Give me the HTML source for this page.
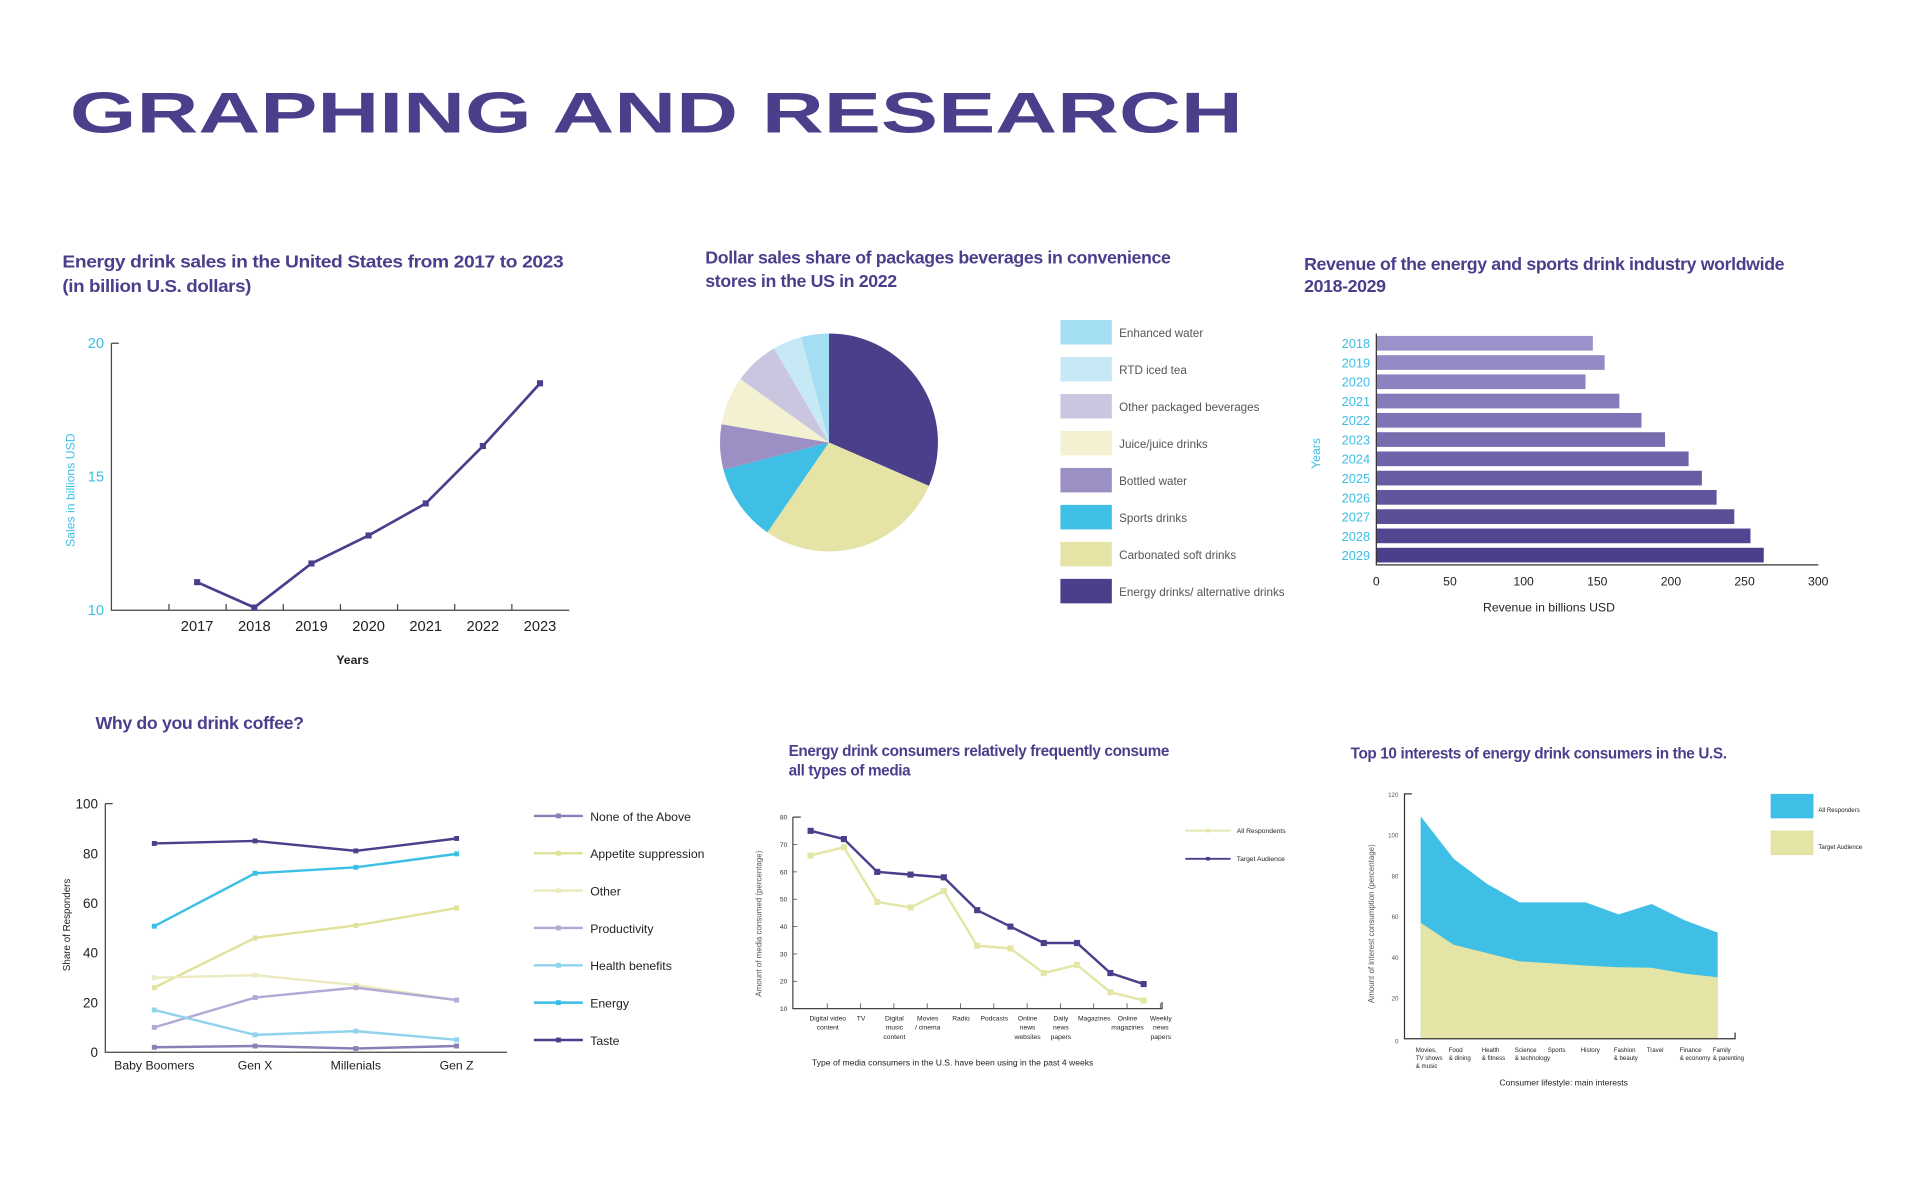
<!DOCTYPE html>
<html><head><meta charset="utf-8"><style>
html,body{margin:0;padding:0;background:#fff;}
svg{display:block;}
text{font-family:"Liberation Sans",sans-serif;}
.t{font-weight:bold;fill:#4b3f8c;font-size:14.5px;letter-spacing:-0.3px}
</style></head><body>
<svg id="s" width="1920" height="1180" viewBox="0 0 1568 963">
<rect width="1568" height="963" fill="#fff"/>
<text x="57" y="108" font-size="47" font-weight="bold" fill="#4b3f8c" textLength="958" lengthAdjust="spacingAndGlyphs">GRAPHING AND RESEARCH</text>
<text class="t" x="51" y="218"><tspan x="51" y="218" textLength="409" lengthAdjust="spacingAndGlyphs">Energy drink sales in the United States from 2017 to 2023</tspan><tspan x="51" y="238" textLength="154" lengthAdjust="spacingAndGlyphs">(in billion U.S. dollars)</tspan></text>
<text class="t" x="576" y="215">Dollar sales share of packages beverages in convenience<tspan x="576" y="234">stores in the US in 2022</tspan></text>
<text class="t" x="1065" y="220">Revenue of the energy and sports drink industry worldwide<tspan x="1065" y="238">2018-2029</tspan></text>
<text class="t" x="78" y="595">Why do you drink coffee?</text>
<text class="t" x="644" y="617" style="font-size:12.5px">Energy drink consumers relatively frequently consume<tspan x="644" y="633">all types of media</tspan></text>
<text class="t" x="1103" y="619" style="font-size:12.5px">Top 10 interests of energy drink consumers in the U.S.</text>
<g id="g"></g>
</svg>
<script>
// Chart 1
const salesYears=["2017","2018","2019","2020","2021","2022","2023"];
const salesValues=[11.05,10.1,11.75,12.8,14.0,16.15,18.5];
const salesTicks=[10,15,20];
// Chart 2
const pieLabels=["Energy drinks/ alternative drinks","Carbonated soft drinks","Sports drinks","Bottled water","Juice/juice drinks","Other packaged beverages","RTD iced tea","Enhanced water"];
const pieValues=[31.5,28,11.4,6.7,7.2,6.7,4.3,4.1];
const pieColors=["#4b3f8c","#e5e4a6","#3fbfe6","#9b8fc4","#f3f1d2","#cbc6e0","#c6e9f5","#a3def2"];
// Chart 3
const revYears=["2018","2019","2020","2021","2022","2023","2024","2025","2026","2027","2028","2029"];
const revValues=[147,155,142,165,180,196,212,221,231,243,254,263];
const revTicks=[0,50,100,150,200,250,300];
// Chart 4
const coffeeCats=["Baby Boomers","Gen X","Millenials","Gen Z"];
const coffeeNames=["None of the Above","Appetite suppression","Other","Productivity","Health benefits","Energy","Taste"];
const coffeeNone=[2,2.5,1.5,2.5];
const coffeeAppetite=[26,46,51,58];
const coffeeOther=[30,31,27,21];
const coffeeProd=[10,22,26,21];
const coffeeHealth=[17,7,8.5,5];
const coffeeEnergy=[50.7,72,74.4,79.8];
const coffeeTaste=[84,85,81,86];
const coffeeColors=["#8a80b5","#dfe29a","#eceabf","#b3a9d6","#8fd3ec","#3cbfe5","#4b3f8c"];
const coffeeTicks=[0,20,40,60,80,100];
// Chart 5
const mediaCats=[["Digital video","content"],["TV"],["Digital","music","content"],["Movies","/ cinema"],["Radio"],["Podcasts"],["Online","news","websites"],["Daily","news","papers"],["Magazines"],["Online","magazines"],["Weekly","news","papers"]];
const mediaTarget=[75,72,60,59,58,46,40,34,34,23,19];
const mediaAll=[66,69,49,47,53,33,32,23,26,16,13];
const mediaTicks=[10,20,30,40,50,60,70,80];
// Chart 6
const intCats=[["Movies,","TV shows","& music"],["Food","& dining"],["Health","& fitness"],["Science","& technology"],["Sports"],["History"],["Fashion","& beauty"],["Travel"],["Finance","& economy"],["Family","& parenting"]];
const intAll=[109.3,88.4,76.2,67,67,67,61.1,66.2,58.2,52.1];
const intTarget=[57,46.2,42.1,38,37,35.9,35.1,34.9,32,30.2];
const intTicks=[0,20,40,60,80,100,120];

const NS="http://www.w3.org/2000/svg";
const G=document.getElementById('g');
function mk(tag,attrs,txt){const e=document.createElementNS(NS,tag);for(const k in attrs)e.setAttribute(k,attrs[k]);if(txt!==undefined)e.textContent=txt;G.appendChild(e);return e;}

// ---- Chart 1
const x1=i=>161+i*46.67, y1=v=>498-(v-10)*21.8;
let e=mk('path',{d:'M91,280 H97 M91,280 V498 H465',stroke:'#444',fill:'none','stroke-width':1});

salesTicks.forEach(t=>{e=mk('text',{x:85,y:y1(t)+4,'text-anchor':'end','font-size':12,fill:'#3cbfe5'},t);
});
salesYears.forEach((yr,i)=>{mk('line',{x1:x1(i)-23,x2:x1(i)-23,y1:493,y2:498,stroke:'#444'});
e=mk('text',{x:x1(i),y:515,'text-anchor':'middle','font-size':12,fill:'#222'},yr);
});
e=mk('text',{x:288,y:542,'text-anchor':'middle','font-size':10,'font-weight':'bold',fill:'#222'},'Years');

e=mk('text',{transform:'translate(61,400) rotate(-90)','text-anchor':'middle','font-size':10,fill:'#3cbfe5'},'Sales in billions USD');

e=mk('polyline',{points:salesValues.map((v,i)=>x1(i)+','+y1(v)).join(' '),fill:'none',stroke:'#4b3f8c','stroke-width':2.2});

salesValues.forEach((v,i)=>{e=mk('rect',{x:x1(i)-2.5,y:y1(v)-2.5,width:5,height:5,fill:'#4b3f8c'});
});

// ---- Chart 2
const cx=677,cy=361,r=89;const tot=pieValues.reduce((a,b)=>a+b,0);let ang=0;
pieValues.forEach((v,i)=>{const a0=ang,a1=ang+v/tot*2*Math.PI;ang=a1;
const p=a=>[cx+r*Math.sin(a),cy-r*Math.cos(a)];const [sx,sy]=p(a0),[ex,ey]=p(a1);
e=mk('path',{d:`M${cx},${cy} L${sx},${sy} A${r},${r} 0 ${a1-a0>Math.PI?1:0} 1 ${ex},${ey} Z`,fill:pieColors[i]});
});
for(let k=0;k<8;k++){const i=7-k;const y=261+k*30.2;
e=mk('rect',{x:866,y:y,width:42,height:20,fill:pieColors[i]});

e=mk('text',{x:914,y:y+14,'font-size':9.5,fill:'#555'},pieLabels[i]);
}

// ---- Chart 3
const xs3=v=>1124+v*1.203, y3=i=>280+i*15.73;
revValues.forEach((v,i)=>{const t=i/11;const c=`rgb(${Math.round(155-80*t)},${Math.round(145-82*t)},${Math.round(203-63*t)})`;
e=mk('rect',{x:1124,y:y3(i)-6,width:xs3(v)-1124,height:12,fill:c});

e=mk('text',{x:1119,y:y3(i)+4,'text-anchor':'end','font-size':10.5,fill:'#3cbfe5'},revYears[i]);
});
e=mk('path',{d:'M1124,272 V461 H1485',stroke:'#333',fill:'none'});

revTicks.forEach(t=>{e=mk('text',{x:xs3(t),y:478,'text-anchor':'middle','font-size':10,fill:'#222'},t);
});
e=mk('text',{x:1265,y:499,'text-anchor':'middle','font-size':10,fill:'#222'},'Revenue in billions USD');

e=mk('text',{transform:'translate(1078,370) rotate(-90)','text-anchor':'middle','font-size':10,fill:'#3cbfe5'},'Years');


// ---- Chart 4
const x4=i=>126+i*82.3, y4=v=>859-v*2.03;
e=mk('path',{d:'M86,656 H92 M86,656 V859 H414',stroke:'#444',fill:'none'});

coffeeTicks.forEach(t=>{e=mk('text',{x:80,y:y4(t)+4,'text-anchor':'end','font-size':11,fill:'#222'},t);
});
coffeeCats.forEach((c,i)=>{e=mk('text',{x:x4(i),y:873,'text-anchor':'middle','font-size':10,fill:'#222'},c);
});
e=mk('text',{transform:'translate(57,755) rotate(-90)','text-anchor':'middle','font-size':8,fill:'#222'},'Share of Responders');

const coffeeSeries=[coffeeNone,coffeeAppetite,coffeeOther,coffeeProd,coffeeHealth,coffeeEnergy,coffeeTaste];
coffeeSeries.forEach((s,k)=>{const col=coffeeColors[k];
e=mk('polyline',{points:s.map((v,i)=>x4(i)+','+y4(v)).join(' '),fill:'none',stroke:col,'stroke-width':2});

s.forEach((v,i)=>{e=mk('rect',{x:x4(i)-2,y:y4(v)-2,width:4,height:4,fill:col});
});
const ly=666+k*30.5;
e=mk('line',{x1:436,x2:476,y1:ly,y2:ly,stroke:col,'stroke-width':2});

mk('rect',{x:454,y:ly-2,width:4,height:4,fill:col});
e=mk('text',{x:482,y:ly+4,'font-size':10,fill:'#222'},coffeeNames[k]);
});

// ---- Chart 5
const x5=i=>662+i*27.2, y5=v=>823.4-(v-10)*2.234;
e=mk('path',{d:'M647.5,667 H654 M647.5,667 V823.4 H949 V818',stroke:'#444',fill:'none'});

mediaTicks.forEach(t=>{e=mk('text',{x:643,y:y5(t)+2,'text-anchor':'end','font-size':5.5,fill:'#333'},t);

mk('line',{x1:647.5,x2:651,y1:y5(t),y2:y5(t),stroke:'#444','stroke-width':0.6});});
mediaCats.forEach((c,i)=>{mk('line',{x1:x5(i)+13.6,x2:x5(i)+13.6,y1:819,y2:823.4,stroke:'#444','stroke-width':0.6});
e=mk('text',{x:x5(i)+14,y:833,'text-anchor':'middle','font-size':5.5,fill:'#222'});

c.forEach((ln,j)=>{const ts=document.createElementNS(NS,'tspan');ts.setAttribute('x',x5(i)+14);ts.setAttribute('y',833+j*7.5);ts.textContent=ln;e.appendChild(ts);});});
e=mk('text',{x:778,y:870,'text-anchor':'middle','font-size':7,fill:'#222'},'Type of media consumers in the U.S. have been using in the past 4 weeks');

e=mk('text',{transform:'translate(622,754) rotate(-90)','text-anchor':'middle','font-size':6.5,fill:'#555'},'Amount of media consumed (percentage)');

[[mediaAll,'#e3e6a6','All Respondents'],[mediaTarget,'#4b3f8c','Target Audience']].forEach(([s,col,nm],k)=>{
e=mk('polyline',{points:s.map((v,i)=>x5(i)+','+y5(v)).join(' '),fill:'none',stroke:col,'stroke-width':2});

s.forEach((v,i)=>{e=mk('rect',{x:x5(i)-2.5,y:y5(v)-2.5,width:5,height:5,fill:col});
});
const ly=678+k*23;
e=mk('line',{x1:968,x2:1005,y1:ly,y2:ly,stroke:col,'stroke-width':1.5});

mk('rect',{x:985,y:ly-1.5,width:3,height:3,fill:col});
e=mk('text',{x:1010,y:ly+2,'font-size':5.5,fill:'#222'},nm);
});

// ---- Chart 6
const x6=i=>1160.2+i*26.95, y6=v=>848-v*1.663;
const area=s=>`M${x6(0)},${y6(0)} `+s.map((v,i)=>`L${x6(i)},${y6(v)}`).join(' ')+` L${x6(s.length-1)},${y6(0)} Z`;
e=mk('path',{d:area(intAll),fill:'#3fbfe5'});

e=mk('path',{d:area(intTarget),fill:'#e5e4a7'});

e=mk('path',{d:'M1153,648 H1147 V848 H1417 V843',stroke:'#333',fill:'none','stroke-width':1});

intTicks.forEach(t=>{e=mk('text',{x:1142,y:y6(t)+(t===0?4:2),'text-anchor':'end','font-size':5,fill:'#555'},t);
});
intCats.forEach((c,i)=>{e=mk('text',{x:x6(i)-4,y:859,'font-size':5,fill:'#222'});

c.forEach((ln,j)=>{const ts=document.createElementNS(NS,'tspan');ts.setAttribute('x',x6(i)-4);ts.setAttribute('y',859+j*6.5);ts.textContent=ln;e.appendChild(ts);});});
e=mk('text',{x:1277,y:886,'text-anchor':'middle','font-size':7,fill:'#222'},'Consumer lifestyle: main interests');

e=mk('text',{transform:'translate(1122,754) rotate(-90)','text-anchor':'middle','font-size':6.5,fill:'#555'},'Amount of interest consumption (percentage)');

e=mk('rect',{x:1446,y:648,width:35,height:20,fill:'#3fbfe5'});

e=mk('rect',{x:1446,y:678,width:35,height:20,fill:'#e5e4a7'});

e=mk('text',{x:1485,y:663,'font-size':5,fill:'#222'},'All Responders');

e=mk('text',{x:1485,y:693,'font-size':5,fill:'#222'},'Target Audience');

</script>
</body></html>
